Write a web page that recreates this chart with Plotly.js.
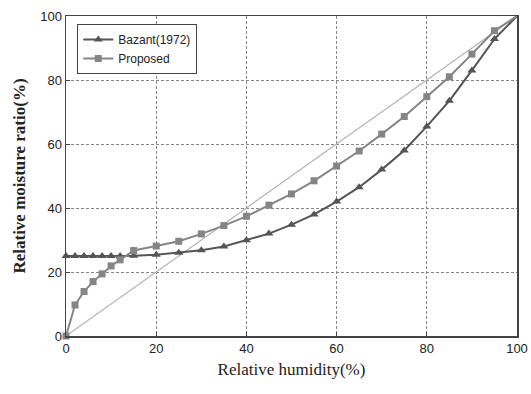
<!DOCTYPE html>
<html><head><meta charset="utf-8">
<script src="https://cdn.plot.ly/plotly-3.0.1.min.js"></script>
<style>html,body{margin:0;padding:0;background:#fff}#c{width:531px;height:394px}</style>
</head><body><div id="c"></div>
<script>
const bazantX = [0,2,4,6,8,10,12,15,20,25,30,35,40,45,50,55,60,65,70,75,80,85,90,95,100];
const bazantY = [25,25,25,25,25,25,25,25.1,25.4,26,26.8,28,29.9,32,34.8,38,42,46.5,52,58,65.5,73.5,83,92.8,100];
const propX = [0,2,4,6,8,10,12,15,20,25,30,35,40,45,50,55,60,65,70,75,80,85,90,95,100];
const propY = [0,9.7,13.9,17,19.4,21.9,23.8,26.7,28.1,29.6,31.9,34.5,37.4,40.9,44.4,48.5,53.1,57.8,63.1,68.6,74.8,81,88.1,95.4,100];
const diagX = [0,100];
const diagY = [0,100];
const xTicks = [0,20,40,60,80,100];
const yTicks = [0,20,40,60,80,100];

const BZ = '#555555', PR = '#858585';
const traces = [
  {x: diagX, y: diagY, mode:'lines', line:{color:'#b4b4b4', width:1.2}, showlegend:false, hoverinfo:'skip'},
  {x: bazantX.slice(-2), y: bazantY.slice(-2), mode:'lines', line:{color:BZ, width:2}, showlegend:false, cliponaxis:false},
  {x: propX.slice(-2), y: propY.slice(-2), mode:'lines', line:{color:PR, width:2}, showlegend:false, cliponaxis:false},
  {x: bazantX.slice(0,-1), y: bazantY.slice(0,-1), name:'Bazant(1972)', mode:'lines+markers', cliponaxis:false,
   line:{color:BZ, width:2}, marker:{symbol:'triangle-up', size:8, color:BZ}},
  {x: propX.slice(0,-1), y: propY.slice(0,-1), name:'Proposed', mode:'lines+markers', cliponaxis:false,
   line:{color:PR, width:2}, marker:{symbol:'square', size:7, color:PR}}
];
const axisCommon = {
  range:[0,100], showline:true, mirror:true, linecolor:'#444', linewidth:1.5,
  ticks:'inside', ticklen:4, tickcolor:'#444', showgrid:true, gridcolor:'#888',
  griddash:'3px,2px', gridwidth:1, zeroline:false,
  tickfont:{family:'Liberation Sans, Arial, sans-serif', size:13, color:'#222'}
};
const layout = {
  width:531, height:394, margin:{l:66, r:14, t:16, b:58},
  paper_bgcolor:'#fff', plot_bgcolor:'#fff',
  xaxis: Object.assign({}, axisCommon, {tickvals:xTicks, ticktext:xTicks.map(String),
    title:{text:'Relative humidity(%)', font:{family:'Liberation Serif, Times New Roman, serif', size:17, color:'#222'}, standoff:8}}),
  yaxis: Object.assign({}, axisCommon, {tickvals:yTicks, ticktext:yTicks.map(String),
    title:{text:'<b>Relative moisture ratio(%)</b>', font:{family:'Liberation Serif, Times New Roman, serif', size:17, color:'#222'}, standoff:10}}),
  legend:{x:0.025, y:0.975, xanchor:'left', yanchor:'top', bgcolor:'#fff', bordercolor:'#444', borderwidth:1,
    font:{family:'Liberation Sans, Arial, sans-serif', size:12, color:'#222'}, tracegroupgap:0, itemwidth:30},
  showlegend:true
};
Plotly.newPlot('c', traces, layout, {displayModeBar:false, staticPlot:true});
</script></body></html>
